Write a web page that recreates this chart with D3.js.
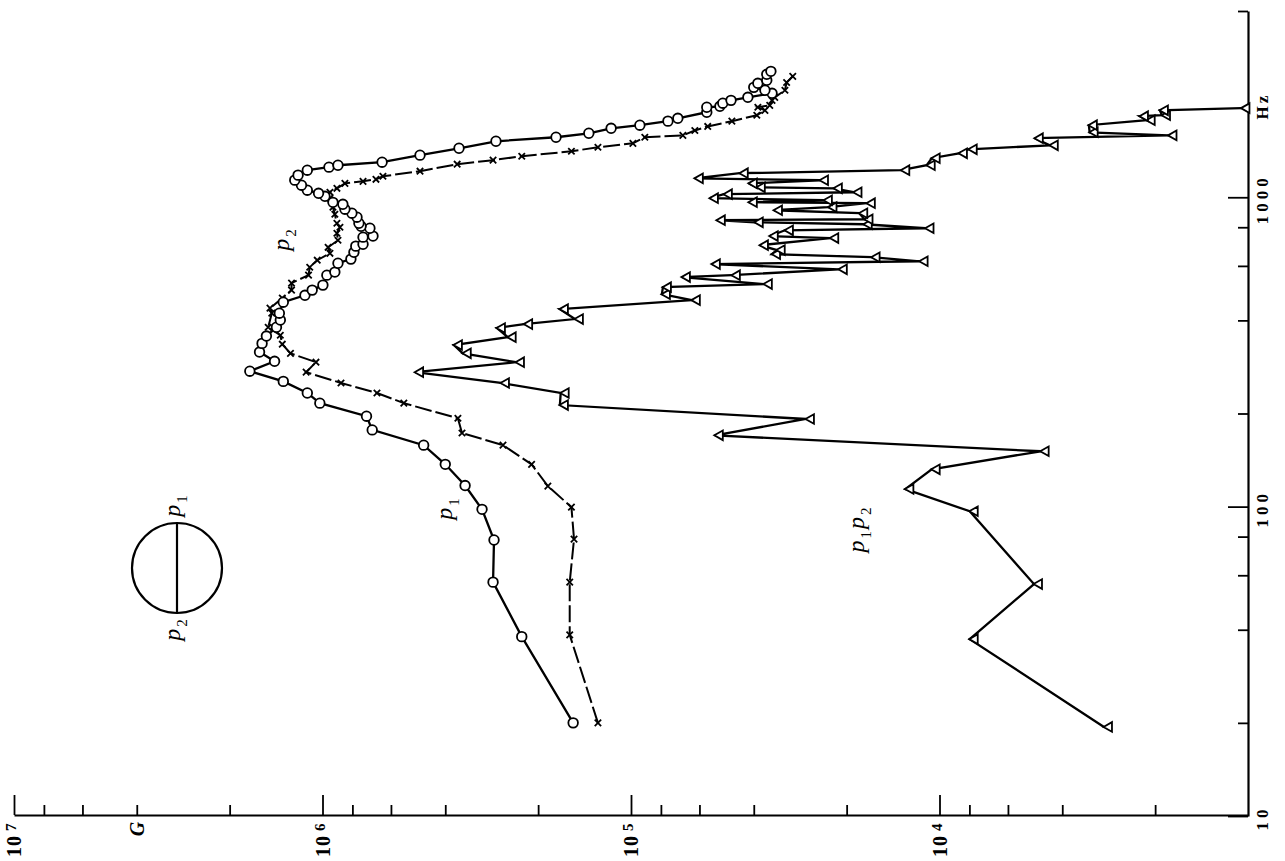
<!DOCTYPE html>
<html lang="en">
<head>
<meta charset="UTF-8">
<title>G spectra p1, p2, p1p2</title>
<script src="https://cdn.jsdelivr.net/npm/d3@7"></script>
<style>
  body { margin: 0; background: #fff; }
  svg { display: block; }
  .axis path, .axis line { stroke: #000; }
  .axis path { stroke-width: 2.2; }
  .axis line { stroke-width: 1.8; }
  .lbl { font-family: "Liberation Serif", "DejaVu Serif", serif; fill: #000; }
</style>
</head>
<body>
<svg width="1285" height="861"></svg>
<script>
// p1 (circles): frequency in Hz, G value
var circleFreq = [20, 38, 57, 78, 98, 117, 137, 158, 177, 196, 216, 233, 254, 274, 295, 316, 337, 356,
  380, 401, 422, 458, 482, 501, 520, 560, 573, 612, 631, 664, 695, 705, 743, 749, 794, 806, 824, 862,
  888, 915, 949, 963, 1007, 1030, 1054, 1094, 1136, 1179, 1223, 1251, 1269, 1298, 1368, 1440, 1517,
  1563, 1610, 1671, 1710, 1762, 1800, 1883, 1954, 1968, 2014, 2057, 2104, 2168, 2218, 2266, 2335,
  2388, 2497, 2553];
var circleG = [1.54e5, 2.26e5, 2.80e5, 2.78e5, 3.04e5, 3.45e5, 4.0e5, 4.7e5, 6.9e5, 7.2e5, 1.02e6,
  1.12e6, 1.34e6, 1.72e6, 1.43e6, 1.60e6, 1.57e6, 1.52e6, 1.41e6, 1.37e6, 1.38e6, 1.34e6, 1.14e6,
  1.08e6, 9.97e5, 9.68e5, 9.12e5, 8.91e5, 8.09e5, 7.91e5, 7.80e5, 7.39e5, 7.39e5, 6.86e5, 7.02e5,
  7.50e5, 7.62e5, 7.73e5, 8.03e5, 8.46e5, 8.59e5, 9.25e5, 9.82e5, 1.03e6, 1.12e6, 1.17e6, 1.23e6,
  1.20e6, 1.12e6, 9.53e5, 8.91e5, 6.41e5, 4.83e5, 3.61e5, 2.74e5, 1.75e5, 1.37e5, 1.16e5, 9.36e4,
  7.59e4, 7.05e4, 5.68e4, 5.68e4, 5.15e4, 5.04e4, 4.74e4, 4.18e4, 3.49e4, 3.68e4, 4.00e4, 3.88e4,
  3.63e4, 3.63e4, 3.52e4];

// p2 (crosses)
var crossFreq = [20, 38.5, 57, 78.5, 99.6, 116.5, 137, 158, 173, 193, 216, 233, 251, 272, 293, 313,
  335, 358, 380, 422, 438, 472, 501, 528, 560, 594, 626, 659, 689, 726, 765, 800, 824, 881, 929, 993,
  1015, 1038, 1069, 1109, 1126, 1143, 1169, 1214, 1279, 1318, 1357, 1408, 1451, 1494, 1563, 1585,
  1644, 1694, 1762, 1841, 1910, 1954, 1982, 2057, 2104, 2218, 2350, 2460];
var crossG = [1.28e5, 1.58e5, 1.58e5, 1.53e5, 1.56e5, 1.86e5, 2.10e5, 2.60e5, 3.53e5, 3.64e5, 5.45e5,
  6.66e5, 8.71e5, 1.13e6, 1.05e6, 1.27e6, 1.35e6, 1.37e6, 1.50e6, 1.46e6, 1.48e6, 1.35e6, 1.26e6,
  1.26e6, 1.11e6, 1.10e6, 1.04e6, 9.46e5, 9.59e5, 8.91e5, 8.98e5, 8.78e5, 8.98e5, 9.12e5, 9.25e5,
  9.46e5, 9.97e5, 9.46e5, 8.98e5, 8.46e5, 7.39e5, 6.71e5, 6.37e5, 4.83e5, 3.66e5, 2.80e5, 2.26e5,
  1.56e5, 1.28e5, 9.86e4, 9.02e4, 6.79e4, 6.21e4, 5.64e4, 4.71e4, 3.91e4, 3.68e4, 3.88e4, 3.55e4,
  3.49e4, 3.42e4, 3.17e4, 3.13e4, 2.99e4];

// p1p2 (triangles)
var triFreq = [19.4, 37.3, 56.2, 96.6, 114, 132, 151, 170, 192, 213, 233, 251, 272, 293, 313, 333,
  353, 378, 389, 404, 435, 465, 486, 512, 524, 552, 560, 585, 608, 621, 640, 655, 675, 700, 738, 749,
  782, 794, 818, 830, 843, 849, 888, 908, 929, 957, 964, 978, 993, 1023, 1038, 1069, 1077, 1109,
  1135, 1151, 1196, 1223, 1269, 1337, 1387, 1429, 1472, 1552, 1585, 1622, 1710, 1775, 1828, 1841,
  1910, 1941];
var triG = [2.93e3, 7.98e3, 4.94e3, 7.98e3, 1.29e4, 1.06e4, 4.70e3, 5.35e4, 2.71e4, 1.70e5, 1.69e5,
  2.64e5, 5.01e5, 2.36e5, 3.51e5, 3.75e5, 2.51e5, 2.72e5, 2.22e5, 1.52e5, 1.70e5, 6.35e4, 7.94e4,
  7.88e4, 3.71e4, 6.84e4, 4.71e4, 2.12e4, 5.47e4, 1.16e4, 1.66e4, 3.49e4, 3.37e4, 3.82e4, 2.26e4,
  3.55e4, 3.17e4, 1.11e4, 1.76e4, 3.97e4, 5.27e4, 1.75e4, 1.82e4, 3.44e4, 2.29e4, 1.72e4, 4.15e4,
  2.37e4, 5.55e4, 5.00e4, 1.90e4, 2.20e4, 3.91e4, 4.15e4, 2.44e4, 6.21e4, 4.44e4, 1.33e4, 1.10e4,
  1.06e4, 8.65e3, 8.04e3, 4.39e3, 4.91e3, 1.81e3, 3.26e3, 3.28e3, 2.13e3, 2.24e3, 1.90e3, 1.93e3,
  1.05e3];

// axis ticks
var gMajor = [1e7, 1e6, 1e5, 1e4];
var gExp = ["7", "6", "5", "4"];
var gMinor = [8e6, 6e6, 4e6, 2e6, 8e5, 6e5, 4e5, 2e5, 8e4, 6e4, 4e4, 2e4, 8e3, 6e3, 4e3, 2e3];
var fMajor = [10, 100, 1000];
var fMinor = [20, 40, 60, 80, 200, 400, 600, 800, 4000];

var svg = d3.select("svg");
var baseY = 815, rightX = 1248;

var gScale = d3.scaleLog().domain([1e7, 1e3]).range([14, rightX]);
var fScale = d3.scaleLog().domain([10, 4000]).range([816, 11]);

function zip(fs, gs) {
  return fs.map(function(f, i) { return { f: f, g: gs[i] }; });
}
var circles = zip(circleFreq, circleG);
var crosses = zip(crossFreq, crossG);
var tris = zip(triFreq, triG);

// axes
svg.append("g").attr("class", "axis").attr("transform", "translate(0," + baseY + ")")
  .call(d3.axisBottom(gScale).tickValues(gMajor).tickSize(-20).tickSizeOuter(0).tickFormat(""));
svg.append("g").attr("class", "axis").attr("transform", "translate(0," + baseY + ")")
  .call(d3.axisBottom(gScale).tickValues(gMinor).tickSize(-10).tickSizeOuter(0).tickFormat(""))
  .select(".domain").remove();
svg.append("g").attr("class", "axis").attr("transform", "translate(" + rightX + ",0)")
  .call(d3.axisRight(fScale).tickValues(fMajor).tickSize(-20).tickSizeOuter(0).tickFormat(""));
svg.append("g").attr("class", "axis").attr("transform", "translate(" + rightX + ",0)")
  .call(d3.axisRight(fScale).tickValues(fMinor).tickSize(-10).tickSizeOuter(0).tickFormat(""))
  .select(".domain").remove();

// G tick labels (rotated)
gMajor.forEach(function(v, i) {
  var t = svg.append("text").attr("class", "lbl")
    .attr("transform", "translate(" + (gScale(v) + 7) + ",857) rotate(-90)")
    .attr("text-anchor", "start")
    .attr("font-size", 20).attr("font-weight", "bold")
    .style("letter-spacing", "1px");
  t.append("tspan").text("10");
  t.append("tspan").attr("font-size", 15).attr("dx", 4).attr("dy", -5).text(gExp[i]);
});
svg.append("text").attr("class", "lbl")
  .attr("transform", "translate(" + (gScale(4e6) + 7) + ",829) rotate(-90)")
  .attr("text-anchor", "middle").attr("font-size", 20).attr("font-style", "italic")
  .attr("font-weight", "bold")
  .text("G");

// frequency labels
fMajor.forEach(function(v) {
  svg.append("text").attr("class", "lbl")
    .attr("transform", "translate(1268," + (fScale(v) + 2) + ") rotate(-90)")
    .attr("text-anchor", "middle").attr("font-size", 17).attr("font-weight", "bold")
    .style("letter-spacing", "4px")
    .text(v);
});
svg.append("text").attr("class", "lbl")
  .attr("transform", "translate(1268," + (fScale(2000) + 2) + ") rotate(-90)")
  .attr("text-anchor", "middle").attr("font-size", 17).attr("font-weight", "bold")
  .style("letter-spacing", "3px")
  .text("Hz");

// curves
var line = d3.line().x(function(d) { return gScale(d.g); }).y(function(d) { return fScale(d.f); });

svg.append("path").datum(tris).attr("d", line)
  .attr("fill", "none").attr("stroke", "#000").attr("stroke-width", 2.3);
svg.append("path").datum(crosses).attr("d", line)
  .attr("fill", "none").attr("stroke", "#000").attr("stroke-width", 2).attr("stroke-dasharray", "17,4");
svg.append("path").datum(circles).attr("d", line)
  .attr("fill", "none").attr("stroke", "#000").attr("stroke-width", 2.3);

svg.append("g").selectAll("path").data(tris).enter().append("path")
  .attr("transform", function(d) { return "translate(" + gScale(d.g) + "," + fScale(d.f) + ")"; })
  .attr("d", "M-0.5,0L8,-4.8L8,4.8Z")
  .attr("fill", "#fff").attr("stroke", "#000").attr("stroke-width", 1.8);
svg.append("g").selectAll("path").data(crosses).enter().append("path")
  .attr("transform", function(d) { return "translate(" + gScale(d.g) + "," + fScale(d.f) + ")"; })
  .attr("d", "M-3.2,-3.2L3.2,3.2M-3.2,3.2L3.2,-3.2")
  .attr("fill", "none").attr("stroke", "#000").attr("stroke-width", 1.8);
svg.append("g").selectAll("circle").data(circles).enter().append("circle")
  .attr("cx", function(d) { return gScale(d.g); })
  .attr("cy", function(d) { return fScale(d.f); })
  .attr("r", 4.8)
  .attr("fill", "#fff").attr("stroke", "#000").attr("stroke-width", 1.8);

// series labels
function pLabel(x, y, subs) {
  var t = svg.append("text").attr("class", "lbl")
    .attr("transform", "translate(" + (x + 2) + "," + y + ") rotate(-90)")
    .attr("text-anchor", "middle").attr("font-size", 24);
  subs.forEach(function(s, i) {
    t.append("tspan").attr("font-style", "italic").attr("dy", i ? -7 : 0)
      .attr("dx", i ? 2 : 0).text("p");
    t.append("tspan").attr("font-size", 15).attr("dy", 7).attr("dx", 2).text(s);
  });
}
pLabel(450, 509, ["1"]);
pLabel(287, 240, ["2"]);
pLabel(862, 530, ["1", "2"]);

// sketch of the section with the two points
var cx = 177, cy = 568, r = 45;
svg.append("circle").attr("cx", cx).attr("cy", cy).attr("r", r)
  .attr("fill", "none").attr("stroke", "#000").attr("stroke-width", 2.2);
svg.append("line").attr("x1", cx).attr("x2", cx).attr("y1", cy - r).attr("y2", cy + r)
  .attr("stroke", "#000").attr("stroke-width", 2.2);
pLabel(178, 506, ["1"]);
pLabel(178, 630, ["2"]);
</script>
</body>
</html>
